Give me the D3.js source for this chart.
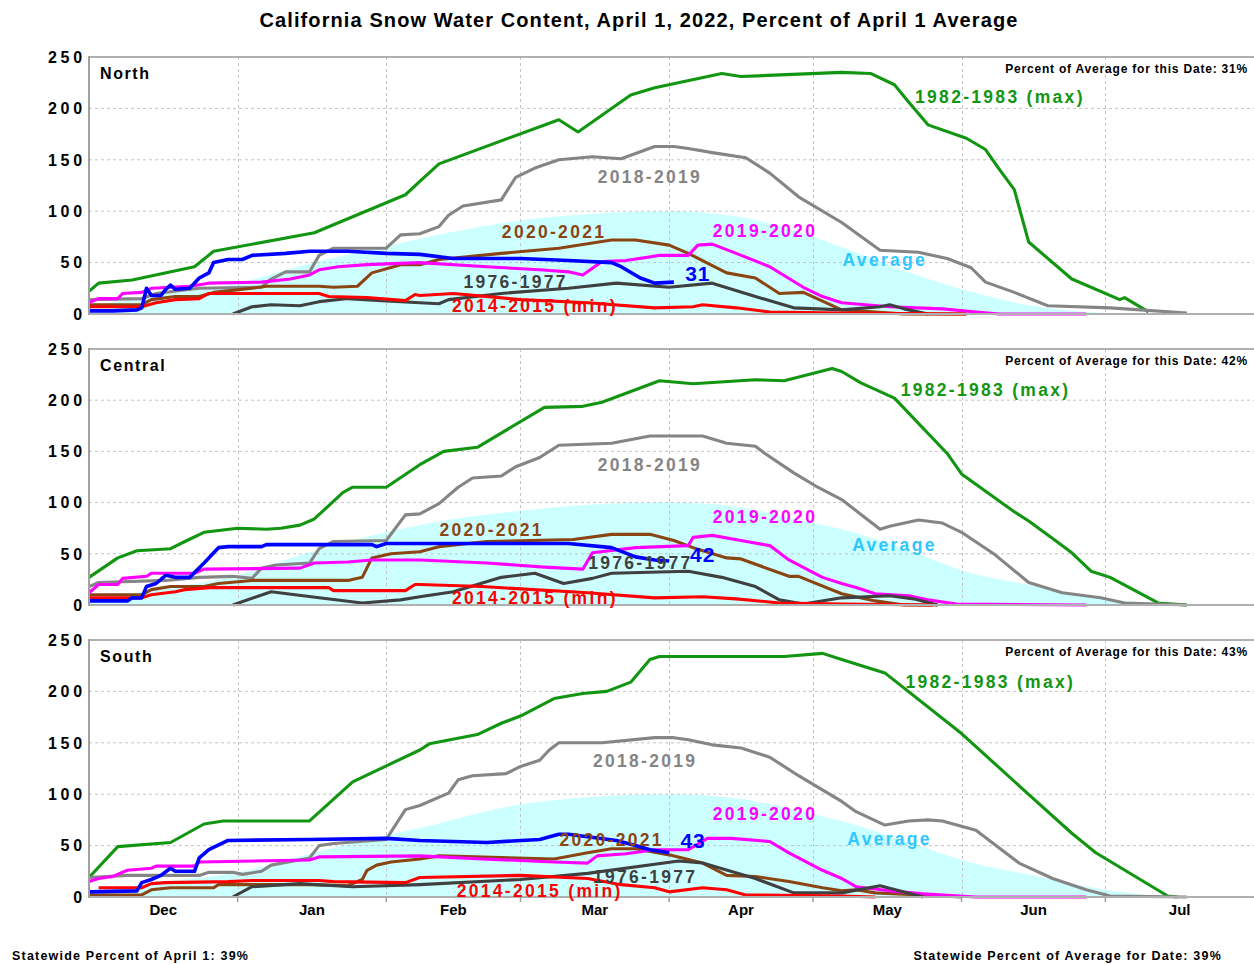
<!DOCTYPE html>
<html><head><meta charset="utf-8">
<script src="https://cdn.jsdelivr.net/npm/d3@7"></script>
<style>
body{margin:0;background:#fff}
svg{display:block}
text{font-family:"Liberation Sans",Arial,Helvetica,sans-serif;font-weight:bold}
</style>
</head><body>
<svg id="chart" width="1254" height="964"></svg>
<script>
// ---------- DATA (x = days since Dec 1, 2021; y = percent of April 1 average) ----------
const monthLabels = ["Dec","Jan","Feb","Mar","Apr","May","Jun","Jul"];
const yTicks = [0,50,100,150,200,250];
const regionNames = ["North","Central","South"];
const regionPctToday = ["31%","42%","43%"];
const currentLabels = ["31","42","43"];
const statewideApril1 = "39%";
const statewideForDate = "39%";

// North
const northAverage = [[0,8],[14,18],[31,30],[45,48],[62,66],[76,80],[90,91],[104,97],[121,100],[135,95],[148,80],[157,65],[170,42],[182,24],[198,7],[212,1],[222,0]];
const northMax = [[0,22],[2,30],[9,33],[22,46],[26,61],[47,79],[66,116],[69,129],[73,146],[98,189],[102,177],[113,213],[118,220],[132,234],[136,231],[157,235],[163,234],[168,223],[171,206],[175,184],[183,171],[187,160],[190,140],[193,121],[196,70],[205,34],[215,14],[216,16],[221,2]];
const northWet1819 = [[0,14],[11,15],[14,20],[23,25],[36,26],[38,34],[41,41],[46,41],[48,57],[51,64],[62,64],[65,77],[69,78],[73,85],[75,96],[78,105],[86,111],[89,133],[93,142],[98,150],[105,153],[111,151],[118,163],[122,163],[125,161],[130,157],[137,152],[142,137],[148,114],[157,89],[165,62],[173,60],[179,54],[184,45],[187,31],[193,21],[200,8],[213,6],[229,1]];
const north2021 = [[0,9],[11,9],[13,14],[18,17],[23,17],[26,21],[34,25],[37,27],[48,27],[51,26],[56,27],[59,40],[65,48],[69,48],[73,53],[86,59],[98,64],[109,72],[114,72],[121,67],[125,59],[133,40],[139,35],[144,20],[149,21],[157,4],[164,2],[170,0],[183,0]];
const north1920 = [[0,11],[2,15],[6,15],[7,20],[11,21],[13,25],[21,27],[25,30],[36,31],[42,34],[46,38],[48,43],[52,46],[58,48],[69,50],[83,46],[94,43],[100,41],[103,38],[107,51],[112,52],[119,57],[125,57],[127,67],[130,68],[135,59],[142,46],[149,26],[153,17],[157,11],[167,7],[178,5],[185,2],[190,0],[208,0]];
const north7677 = [[30,0],[34,7],[38,9],[44,8],[48,12],[54,15],[61,13],[69,11],[73,10],[75,14],[86,20],[100,25],[110,30],[121,26],[130,30],[139,17],[147,6],[157,4],[165,7],[167,9],[170,5],[175,0]];
const northMin = [[0,7],[11,7],[14,11],[18,14],[23,15],[25,20],[48,20],[50,17],[58,16],[66,13],[68,19],[69,18],[76,20],[90,14],[104,11],[118,6],[126,7],[128,9],[135,6],[142,2],[157,1],[183,0]];
const northCurrent = [[0,3],[5,3],[10,4],[11,6],[12,25],[13,18],[15,18],[16,24],[17,28],[18,24],[21,25],[23,35],[25,40],[26,50],[29,53],[32,53],[34,57],[41,59],[46,61],[54,61],[62,59],[69,58],[76,54],[90,54],[100,52],[109,50],[111,46],[115,35],[118,30],[122,31]];

// Central
const centralAverage = [[0,6],[14,15],[31,29],[45,50],[62,71],[76,84],[90,92],[104,98],[121,100],[135,96],[148,83],[157,74],[170,55],[182,34],[198,18],[212,6],[225,1],[232,0]];
const centralMax = [[0,27],[6,46],[10,53],[17,55],[20,62],[24,71],[31,75],[37,74],[40,75],[44,78],[47,84],[53,110],[55,115],[62,115],[69,137],[74,150],[81,154],[95,193],[103,194],[107,198],[119,219],[126,216],[139,220],[145,219],[155,231],[157,228],[161,217],[168,202],[179,148],[182,128],[193,91],[196,82],[201,65],[205,51],[209,33],[213,27],[223,2],[229,0]];
const centralWet1819 = [[0,18],[2,22],[16,24],[23,27],[30,28],[34,26],[36,36],[39,39],[46,41],[48,55],[51,62],[62,63],[66,88],[69,89],[73,99],[77,115],[80,124],[86,126],[89,135],[94,144],[98,156],[109,158],[117,165],[128,165],[133,158],[139,155],[141,148],[147,129],[152,115],[157,103],[165,74],[167,77],[173,83],[178,80],[182,71],[189,49],[196,22],[203,12],[211,7],[216,2],[229,0]];
const central2021 = [[0,10],[11,10],[13,15],[17,18],[24,18],[27,21],[34,24],[54,24],[57,27],[59,46],[63,50],[69,52],[73,57],[83,62],[101,64],[109,69],[117,69],[122,63],[126,56],[133,46],[136,45],[146,28],[148,28],[157,11],[164,4],[170,0],[177,0]];
const central1920 = [[0,12],[2,20],[6,20],[7,26],[12,28],[13,31],[22,31],[24,35],[44,36],[47,41],[54,42],[59,44],[69,44],[83,41],[95,37],[103,35],[105,51],[114,56],[125,58],[126,66],[130,68],[136,63],[142,58],[146,44],[153,27],[157,21],[160,17],[164,11],[171,9],[175,5],[181,1],[208,0]];
const central7677 = [[30,0],[38,13],[48,7],[57,2],[65,5],[69,8],[76,13],[86,27],[93,31],[99,21],[105,26],[109,31],[125,33],[132,27],[139,18],[144,5],[149,1],[157,7],[167,9],[172,6],[177,0]];
const centralMin = [[0,7],[11,7],[13,10],[18,13],[20,15],[25,17],[50,17],[51,14],[66,14],[68,20],[69,20],[82,18],[104,12],[118,7],[128,8],[135,6],[144,2],[157,1],[176,0]];
const centralCurrent = [[0,4],[8,4],[9,7],[11,7],[12,18],[14,21],[16,29],[18,27],[21,27],[24,41],[27,56],[29,57],[36,57],[37,59],[59,59],[60,57],[62,60],[100,60],[109,56],[114,47],[118,44],[121,43]];

// South
const southAverage = [[0,5],[14,14],[31,24],[46,42],[62,60],[69,67],[90,90],[104,97],[121,100],[135,96],[148,84],[157,74],[170,55],[182,36],[198,20],[212,7],[225,1],[235,0]];
const southMax = [[0,19],[6,49],[17,53],[24,71],[28,74],[46,74],[55,112],[69,143],[71,149],[81,158],[86,169],[90,176],[97,193],[103,198],[108,200],[113,209],[117,231],[119,234],[145,234],[153,237],[157,231],[166,218],[182,159],[195,104],[205,62],[210,43],[225,1],[227,0]];
const southWet1819 = [[0,19],[8,21],[23,21],[25,24],[30,24],[32,22],[36,25],[38,31],[46,38],[48,50],[51,52],[62,56],[66,85],[69,89],[75,101],[77,114],[80,118],[87,120],[90,127],[94,133],[96,143],[98,150],[107,150],[118,155],[122,155],[125,153],[130,148],[136,145],[142,136],[148,118],[157,93],[160,83],[166,70],[171,74],[175,75],[178,74],[185,65],[194,33],[201,18],[208,7],[213,1],[229,0]];
const south2021 = [[0,2],[11,2],[13,7],[17,9],[26,9],[27,12],[46,12],[54,11],[57,17],[58,26],[60,31],[63,34],[69,37],[73,40],[97,37],[104,43],[109,47],[114,47],[121,41],[128,33],[133,21],[139,20],[146,15],[153,9],[157,6],[160,7],[164,4],[178,1],[182,0]];
const south1920 = [[0,15],[2,18],[5,20],[8,26],[13,28],[14,30],[22,30],[23,34],[46,36],[48,39],[69,40],[82,37],[97,34],[104,33],[106,40],[112,42],[118,46],[125,46],[129,57],[134,57],[142,54],[146,43],[153,26],[157,18],[160,10],[167,6],[174,3],[185,0],[208,0]];
const south7677 = [[30,0],[34,10],[44,13],[55,10],[69,12],[90,17],[104,23],[123,35],[128,33],[139,18],[147,4],[157,4],[165,11],[174,0]];
const southMin = [[2,9],[11,9],[13,13],[16,14],[29,15],[34,16],[48,16],[51,15],[66,14],[69,19],[90,21],[104,18],[111,12],[118,9],[121,5],[128,9],[133,7],[137,2],[157,1],[164,0]];
const southCurrent = [[0,5],[10,6],[11,14],[13,17],[15,21],[17,28],[18,25],[22,25],[23,38],[25,46],[29,55],[46,56],[62,57],[69,55],[83,53],[94,56],[98,61],[100,61],[110,55],[114,50],[117,46],[121,43]];

// Series names, in drawing order
const seriesNames = ["1982-1983 (max)","2018-2019","2020-2021","2019-2020","1976-1977","2014-2015 (min)","2021-2022"];

// Label anchors (text, day, value) per region
const northLabelPos = [["1982-1983 (max)",190.8,211],["2018-2019",117.3,134],["2020-2021",97.5,80],["2019-2020",141.1,81],["Average",166.4,52.5],["1976-1977",89.6,31],["2014-2015 (min)",93.3,7.8],["current",127.6,39]];
const centralLabelPos = [["1982-1983 (max)",187.5,210],["2018-2019",117.3,137],["2020-2021",84.8,74],["2019-2020",141.1,86],["Average",168.5,58.6],["1976-1977",115.2,41],["2014-2015 (min)",93.3,6.8],["current",128.2,49]];
const southLabelPos = [["1982-1983 (max)",188.7,209],["2018-2019",116.7,133],["2020-2021",109.8,56],["2019-2020",141.8,81],["Average",167.8,57],["1976-1977",116.7,19.5],["2014-2015 (min)",94.4,5.8],["current",126.1,55]];

// ---------- STYLE ----------
const seriesColors = {"1982-1983 (max)":"#129612","2018-2019":"#858585","2020-2021":"#8b4513","2019-2020":"#ff00ff","1976-1977":"#404040","2014-2015 (min)":"#ff0000","2021-2022":"#0000ff","Average":"#2ec8ff","current":"#0000ff"};

const regionData = [
  {avg:northAverage, lines:[northMax,northWet1819,north2021,north1920,north7677,northMin,northCurrent], labels:northLabelPos},
  {avg:centralAverage, lines:[centralMax,centralWet1819,central2021,central1920,central7677,centralMin,centralCurrent], labels:centralLabelPos},
  {avg:southAverage, lines:[southMax,southWet1819,south2021,south1920,south7677,southMin,southCurrent], labels:southLabelPos}
];
const panelBox = [{top:57,bottom:314},{top:349,bottom:605},{top:640,bottom:897}];

const svg = d3.select("#chart");
const left = 89, right = 1254;
const start = new Date(2021,11,1), end = new Date(2022,7,1);
const x = d3.scaleTime().domain([start,end]).range([left,right]);
const dayToDate = d => d3.timeDay.offset(start, d);
const xd = d => x(dayToDate(d));

// Title
svg.append("text").attr("x",639).attr("y",27).attr("text-anchor","middle")
  .style("font-size","20px").style("letter-spacing","1.1px").attr("fill","#000")
  .text("California Snow Water Content, April 1, 2022, Percent of April 1 Average");

const monthStarts = d3.timeMonth.range(new Date(2022,0,1), new Date(2022,6,2));

regionData.forEach((rd,i)=>{
  const box = panelBox[i];
  const y = d3.scaleLinear().domain([0,250]).range([box.bottom, box.top]);
  const g = svg.append("g");

  // average area
  g.append("path").datum(rd.avg)
    .attr("d", d3.area().x(d=>xd(d[0])).y0(y(0)).y1(d=>y(d[1])).curve(d3.curveMonotoneX))
    .attr("fill","#ccffff");

  // gridlines
  g.selectAll(".hg").data(yTicks.filter(v=>v>0 && v<250)).join("line")
    .attr("x1",left).attr("x2",right).attr("y1",d=>y(d)).attr("y2",d=>y(d))
    .attr("stroke","#c4c4c4").attr("stroke-width",1).attr("stroke-dasharray","3,3");
  g.selectAll(".vg").data(monthStarts).join("line")
    .attr("x1",d=>Math.round(x(d))+0.5).attr("x2",d=>Math.round(x(d))+0.5).attr("y1",box.top).attr("y2",box.bottom)
    .attr("stroke","#c4c4c4").attr("stroke-width",1).attr("stroke-dasharray","3,3");

  // series lines
  const line = d3.line().x(d=>xd(d[0])).y(d=>y(d[1]));
  rd.lines.forEach((s,k)=>{
    const name = seriesNames[k];
    g.append("path").datum(s).attr("d",line).attr("fill","none")
      .attr("stroke",seriesColors[name]).attr("stroke-width", name==="2021-2022"?3.6:3.1)
      .attr("stroke-linejoin","round").attr("stroke-linecap","butt");
  });

  // frame
  g.append("line").attr("x1",left).attr("x2",right).attr("y1",box.top).attr("y2",box.top).attr("stroke","#b0b0b0").attr("stroke-width",2);
  g.append("line").attr("x1",left).attr("x2",right).attr("y1",box.bottom).attr("y2",box.bottom).attr("stroke","#b0b0b0").attr("stroke-width",2);
  g.append("line").attr("x1",left).attr("x2",left).attr("y1",box.top-1).attr("y2",box.bottom+1).attr("stroke","#a0a0a0").attr("stroke-width",2);

  // y tick labels
  g.selectAll(".yl").data(yTicks).join("text")
    .attr("x",86).attr("y",d=>y(d)).attr("dy","0.36em").attr("text-anchor","end")
    .style("font-size","16px").style("letter-spacing","3.8px").attr("fill","#000")
    .text(d=>d);

  // region name
  g.append("text").attr("x",100).attr("y",box.top+21.5).style("font-size","16px").style("letter-spacing","1.6px")
    .attr("fill","#000").text(regionNames[i]);
  g.append("text").attr("x",1248).attr("y",box.top+15.5).attr("text-anchor","end")
    .style("font-size","12px").style("letter-spacing","0.8px").attr("fill","#000")
    .text("Percent of Average for this Date: " + regionPctToday[i]);

  // series labels
  rd.labels.forEach(([t,d,v])=>{
    const isCur = t==="current";
    g.append("text").attr("x",xd(d)).attr("y",y(v)).attr("dy","0.36em").attr("text-anchor","middle")
      .style("font-size", isCur?"21px":"17.5px").style("letter-spacing", isCur?"1px":"2.3px")
      .attr("fill", seriesColors[t]).text(isCur?currentLabels[i]:t);
  });

  // x ticks & month labels on last panel
  if(i===2){
    g.selectAll(".xt").data(monthStarts).join("line")
      .attr("x1",d=>x(d)).attr("x2",d=>x(d)).attr("y1",box.bottom).attr("y2",box.bottom+5)
      .attr("stroke","#a0a0a0").attr("stroke-width",1.5);
    const ms = d3.timeMonth.range(start, end);
    g.selectAll(".ml").data(ms).join("text")
      .attr("x",d=>(x(d)+x(d3.timeMonth.offset(d,1)))/2).attr("y",915).attr("text-anchor","middle")
      .style("font-size","15px").attr("fill","#000").text((d,j)=>monthLabels[j]);
  }
});

// footer
svg.append("text").attr("x",12).attr("y",960).style("font-size","12.5px").style("letter-spacing","1.2px").attr("fill","#000")
  .text("Statewide Percent of April 1: " + statewideApril1);
svg.append("text").attr("x",1222).attr("y",960).attr("text-anchor","end").style("font-size","12.5px").style("letter-spacing","1.2px").attr("fill","#000")
  .text("Statewide Percent of Average for Date: " + statewideForDate);
</script>
</body></html>
